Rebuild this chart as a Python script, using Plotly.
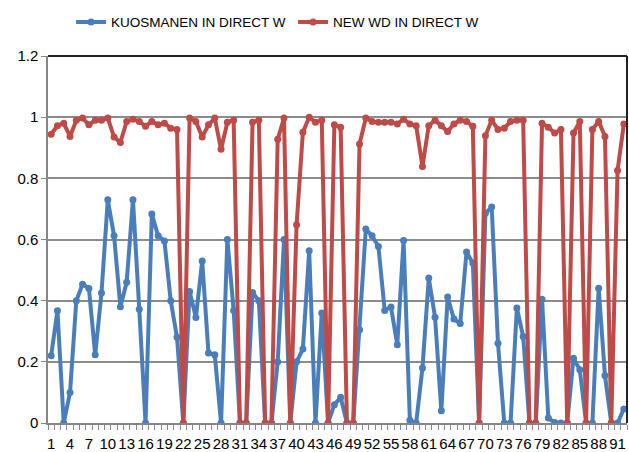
import plotly.graph_objects as go

categories = list(range(1, 93))
tick_values = list(range(1, 92, 3))
tick_labels = [str(v) for v in tick_values]

kuosmanen = [
    0.22, 0.367, 0.0, 0.10, 0.40, 0.454, 0.44, 0.223, 0.425, 0.73,
    0.612, 0.38, 0.46, 0.73, 0.372, 0.0, 0.683, 0.612, 0.595, 0.40,
    0.28, 0.0, 0.43, 0.345, 0.53, 0.229, 0.223, 0.0, 0.60, 0.368,
    0.0, 0.0, 0.427, 0.40, 0.0, 0.0, 0.20, 0.60, 0.0, 0.20,
    0.242, 0.563, 0.0, 0.36, 0.0, 0.06, 0.084, 0.0, 0.0, 0.305,
    0.634, 0.612, 0.577, 0.368, 0.379, 0.256, 0.597, 0.009, 0.0, 0.18,
    0.474, 0.346, 0.04, 0.412, 0.34, 0.325, 0.559, 0.523, 0.0, 0.686,
    0.706, 0.261, 0.0, 0.0, 0.376, 0.283, 0.0, 0.0, 0.405, 0.016,
    0.002, 0.0, 0.0, 0.212, 0.174, 0.0, 0.0, 0.441, 0.155, 0.0,
    0.0, 0.046,
]

new_wd = [
    0.944, 0.972, 0.98, 0.937, 0.99, 0.997, 0.975, 0.99, 0.99, 0.997,
    0.935, 0.917, 0.986, 0.993, 0.986, 0.97, 0.986, 0.975, 0.98, 0.964,
    0.96, 0.0, 0.997, 0.986, 0.935, 0.975, 0.997, 0.895, 0.983, 0.99,
    0.0, 0.0, 0.983, 0.99, 0.0, 0.0, 0.928, 0.997, 0.0, 0.648,
    0.951, 1.0, 0.983, 0.99, 0.0, 0.975, 0.967, 0.0, 0.0, 0.912,
    0.997, 0.986, 0.983, 0.983, 0.983, 0.978, 0.993, 0.978, 0.972, 0.839,
    0.972, 0.99, 0.972, 0.953, 0.978, 0.99, 0.986, 0.97, 0.0, 0.939,
    0.99, 0.96, 0.964, 0.986, 0.99, 0.99, 0.0, 0.0, 0.98, 0.967,
    0.948, 0.96, 0.0, 0.948, 0.986, 0.0, 0.96, 0.986, 0.937, 0.0,
    0.826, 0.978,
]

FONT = "Liberation Sans, Arial, sans-serif"
BLUE = "#4A7EBB"
RED = "#BE4B48"

fig = go.Figure()
fig.add_trace(go.Scatter(
    x=categories, y=kuosmanen, mode="lines+markers",
    name="KUOSMANEN IN DIRECT W",
    line=dict(color=BLUE, width=4),
    marker=dict(color=BLUE, size=7),
))
fig.add_trace(go.Scatter(
    x=categories, y=new_wd, mode="lines+markers",
    name="NEW WD IN DIRECT W",
    line=dict(color=RED, width=4),
    marker=dict(color=RED, size=7),
))

fig.update_layout(
    width=629, height=452,
    margin=dict(l=48, r=2, t=56, b=29),
    paper_bgcolor="white", plot_bgcolor="white",
    font=dict(family=FONT, size=15, color="#000000"),
    showlegend=True,
    legend=dict(
        orientation="h", x=0.113, xanchor="left", y=0.985, yanchor="top",
        xref="container", yref="container",
        font=dict(family=FONT, size=13.5), itemwidth=30,
        entrywidth=177, entrywidthmode="pixels",
        bgcolor="rgba(0,0,0,0)",
    ),
    xaxis=dict(
        range=[0.5, 92.5], tickmode="array", tickvals=tick_values, ticktext=tick_labels,
        ticks="", showgrid=False, zeroline=False, automargin=False,
        showline=True, linecolor="#868686", linewidth=1.5,
        tickfont=dict(family=FONT, size=15), ticklabelstandoff=6,
        minor=dict(ticks="outside", tick0=0.5, dtick=1, ticklen=5, tickcolor="#868686", tickwidth=1, showgrid=False),
    ),
    yaxis=dict(
        range=[0, 1.2], tickmode="array", tickvals=[0, 0.2, 0.4, 0.6, 0.8, 1.0, 1.2],
        ticktext=["0", "0.2", "0.4", "0.6", "0.8", "1", "1.2"],
        ticks="outside", ticklen=5, tickcolor="#868686", automargin=False,
        showgrid=True, gridcolor="#8C8C8C", gridwidth=1.5,
        zeroline=False, showline=True, linecolor="#868686", linewidth=1.5,
        tickfont=dict(family=FONT, size=15),
    ),
    shapes=[
        dict(type="line", xref="paper", yref="paper", x0=0, x1=1, y0=1, y1=1,
             line=dict(color="#222222", width=2)),
        dict(type="line", xref="paper", yref="paper", x0=1, x1=1, y0=0, y1=1,
             line=dict(color="#222222", width=2)),
    ],
)

fig.write_html(
    "out.html",
    config={"displayModeBar": False},
    post_script="document.body.style.margin='0';document.body.style.overflow='hidden';",
)
